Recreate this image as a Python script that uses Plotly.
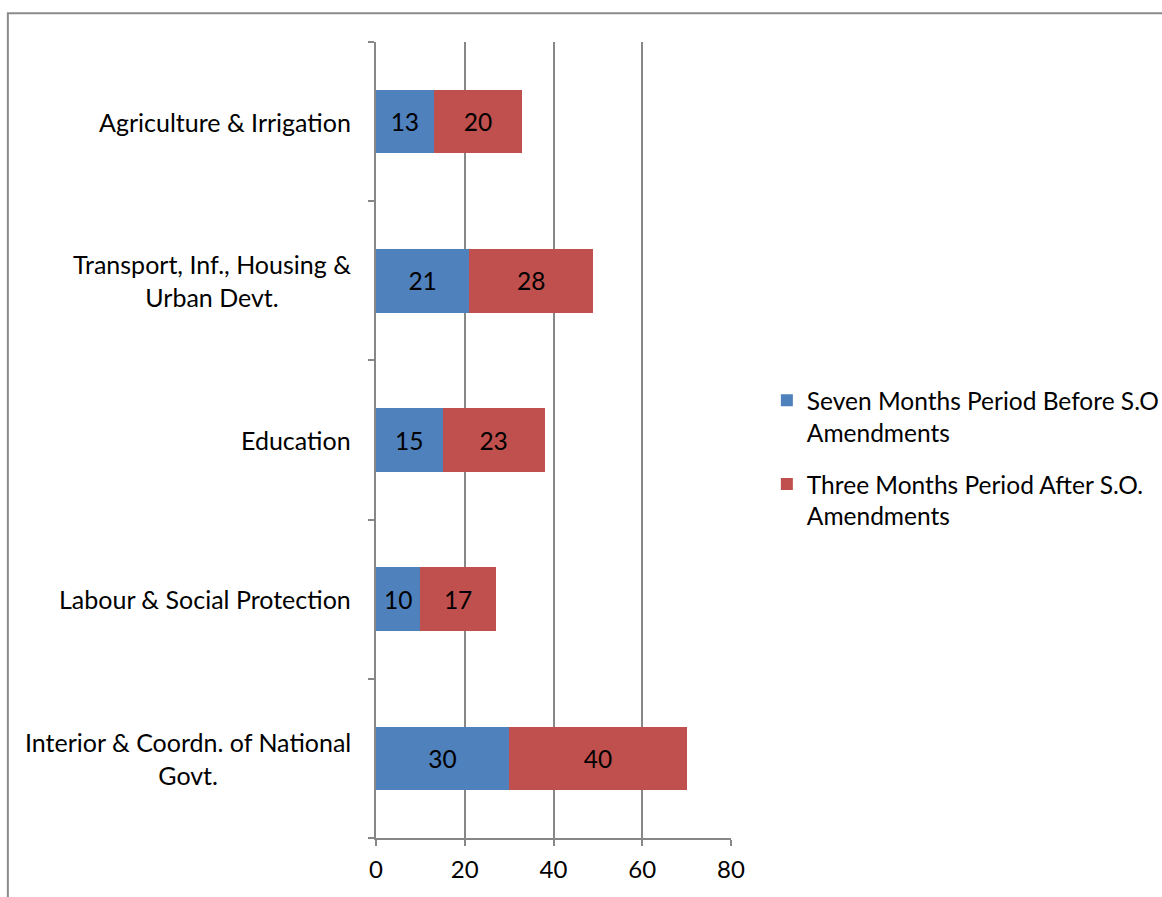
import plotly.graph_objects as go

categories = [
    "Agriculture & Irrigation",
    "Transport, Inf., Housing &<br>Urban Devt.",
    "Education",
    "Labour & Social Protection",
    "Interior & Coordn. of National<br>Govt.",
]
before = [13, 21, 15, 10, 30]
after = [20, 28, 23, 17, 40]
series_names = [
    "Seven Months Period Before S.O<br>Amendments",
    "Three Months Period After S.O.<br>Amendments",
]
x_ticks = [0, 20, 40, 60, 80]

FONT = "Lato"
GRID = "#878787"

fig = go.Figure()
fig.add_trace(go.Bar(
    y=categories, x=before, orientation="h", name=series_names[0], legendgroup="a",
    marker=dict(color="#4F81BD", line=dict(width=0)),
    text=before, textposition="inside", insidetextanchor="middle",
    textfont=dict(color="black", size=24.5, family=FONT),
))
fig.add_trace(go.Bar(
    y=categories, x=after, orientation="h", name=series_names[1], legendgroup="b",
    marker=dict(color="#C0504D", line=dict(width=0)),
    text=after, textposition="inside", insidetextanchor="middle",
    textfont=dict(color="black", size=24.5, family=FONT),
))

for c in categories:
    fig.add_annotation(
        x=-0.066, xref="paper", y=c, yref="y", text=c, showarrow=False,
        xanchor="right", yanchor="middle", align="center",
        font=dict(size=25, family=FONT, color="black"),
    )

fig.add_shape(type="rect", xref="paper", yref="paper",
              x0=-1.037, x1=3.0, y0=-1.0, y1=1.036,
              line=dict(color="#8a8a8a", width=2), fillcolor="rgba(0,0,0,0)",
              layer="below")

fig.update_layout(
    width=1162, height=897,
    margin=dict(l=376, r=431, t=42, b=59, autoexpand=False),
    paper_bgcolor="white", plot_bgcolor="white",
    barmode="stack", bargap=0.6,
    font=dict(family=FONT, size=24, color="black"),
    showlegend=True,
    legend=dict(
        x=1.101, y=0.578, xanchor="left", yanchor="top",
        traceorder="grouped", valign="top", tracegroupgap=17,
        font=dict(size=24.5, family=FONT, color="black"),
        itemwidth=30, bgcolor="rgba(0,0,0,0)",
    ),
    xaxis=dict(
        range=[0, 80], tickvals=x_ticks, showgrid=True, gridcolor=GRID, gridwidth=2,
        showline=True, linecolor=GRID, linewidth=2, ticks="outside", ticklen=6,
        tickcolor=GRID, tickwidth=2, zeroline=False, ticklabelstandoff=3,
        tickfont=dict(size=24, family=FONT), fixedrange=True,
    ),
    yaxis=dict(
        categoryorder="array", categoryarray=categories[::-1],
        showticklabels=False, showline=True, linecolor=GRID, linewidth=2,
        ticks="outside", tickson="boundaries", ticklen=6, tickcolor=GRID, tickwidth=2,
        showgrid=False, zeroline=False, fixedrange=True,
    ),
)

fig.write_html("out.html")
